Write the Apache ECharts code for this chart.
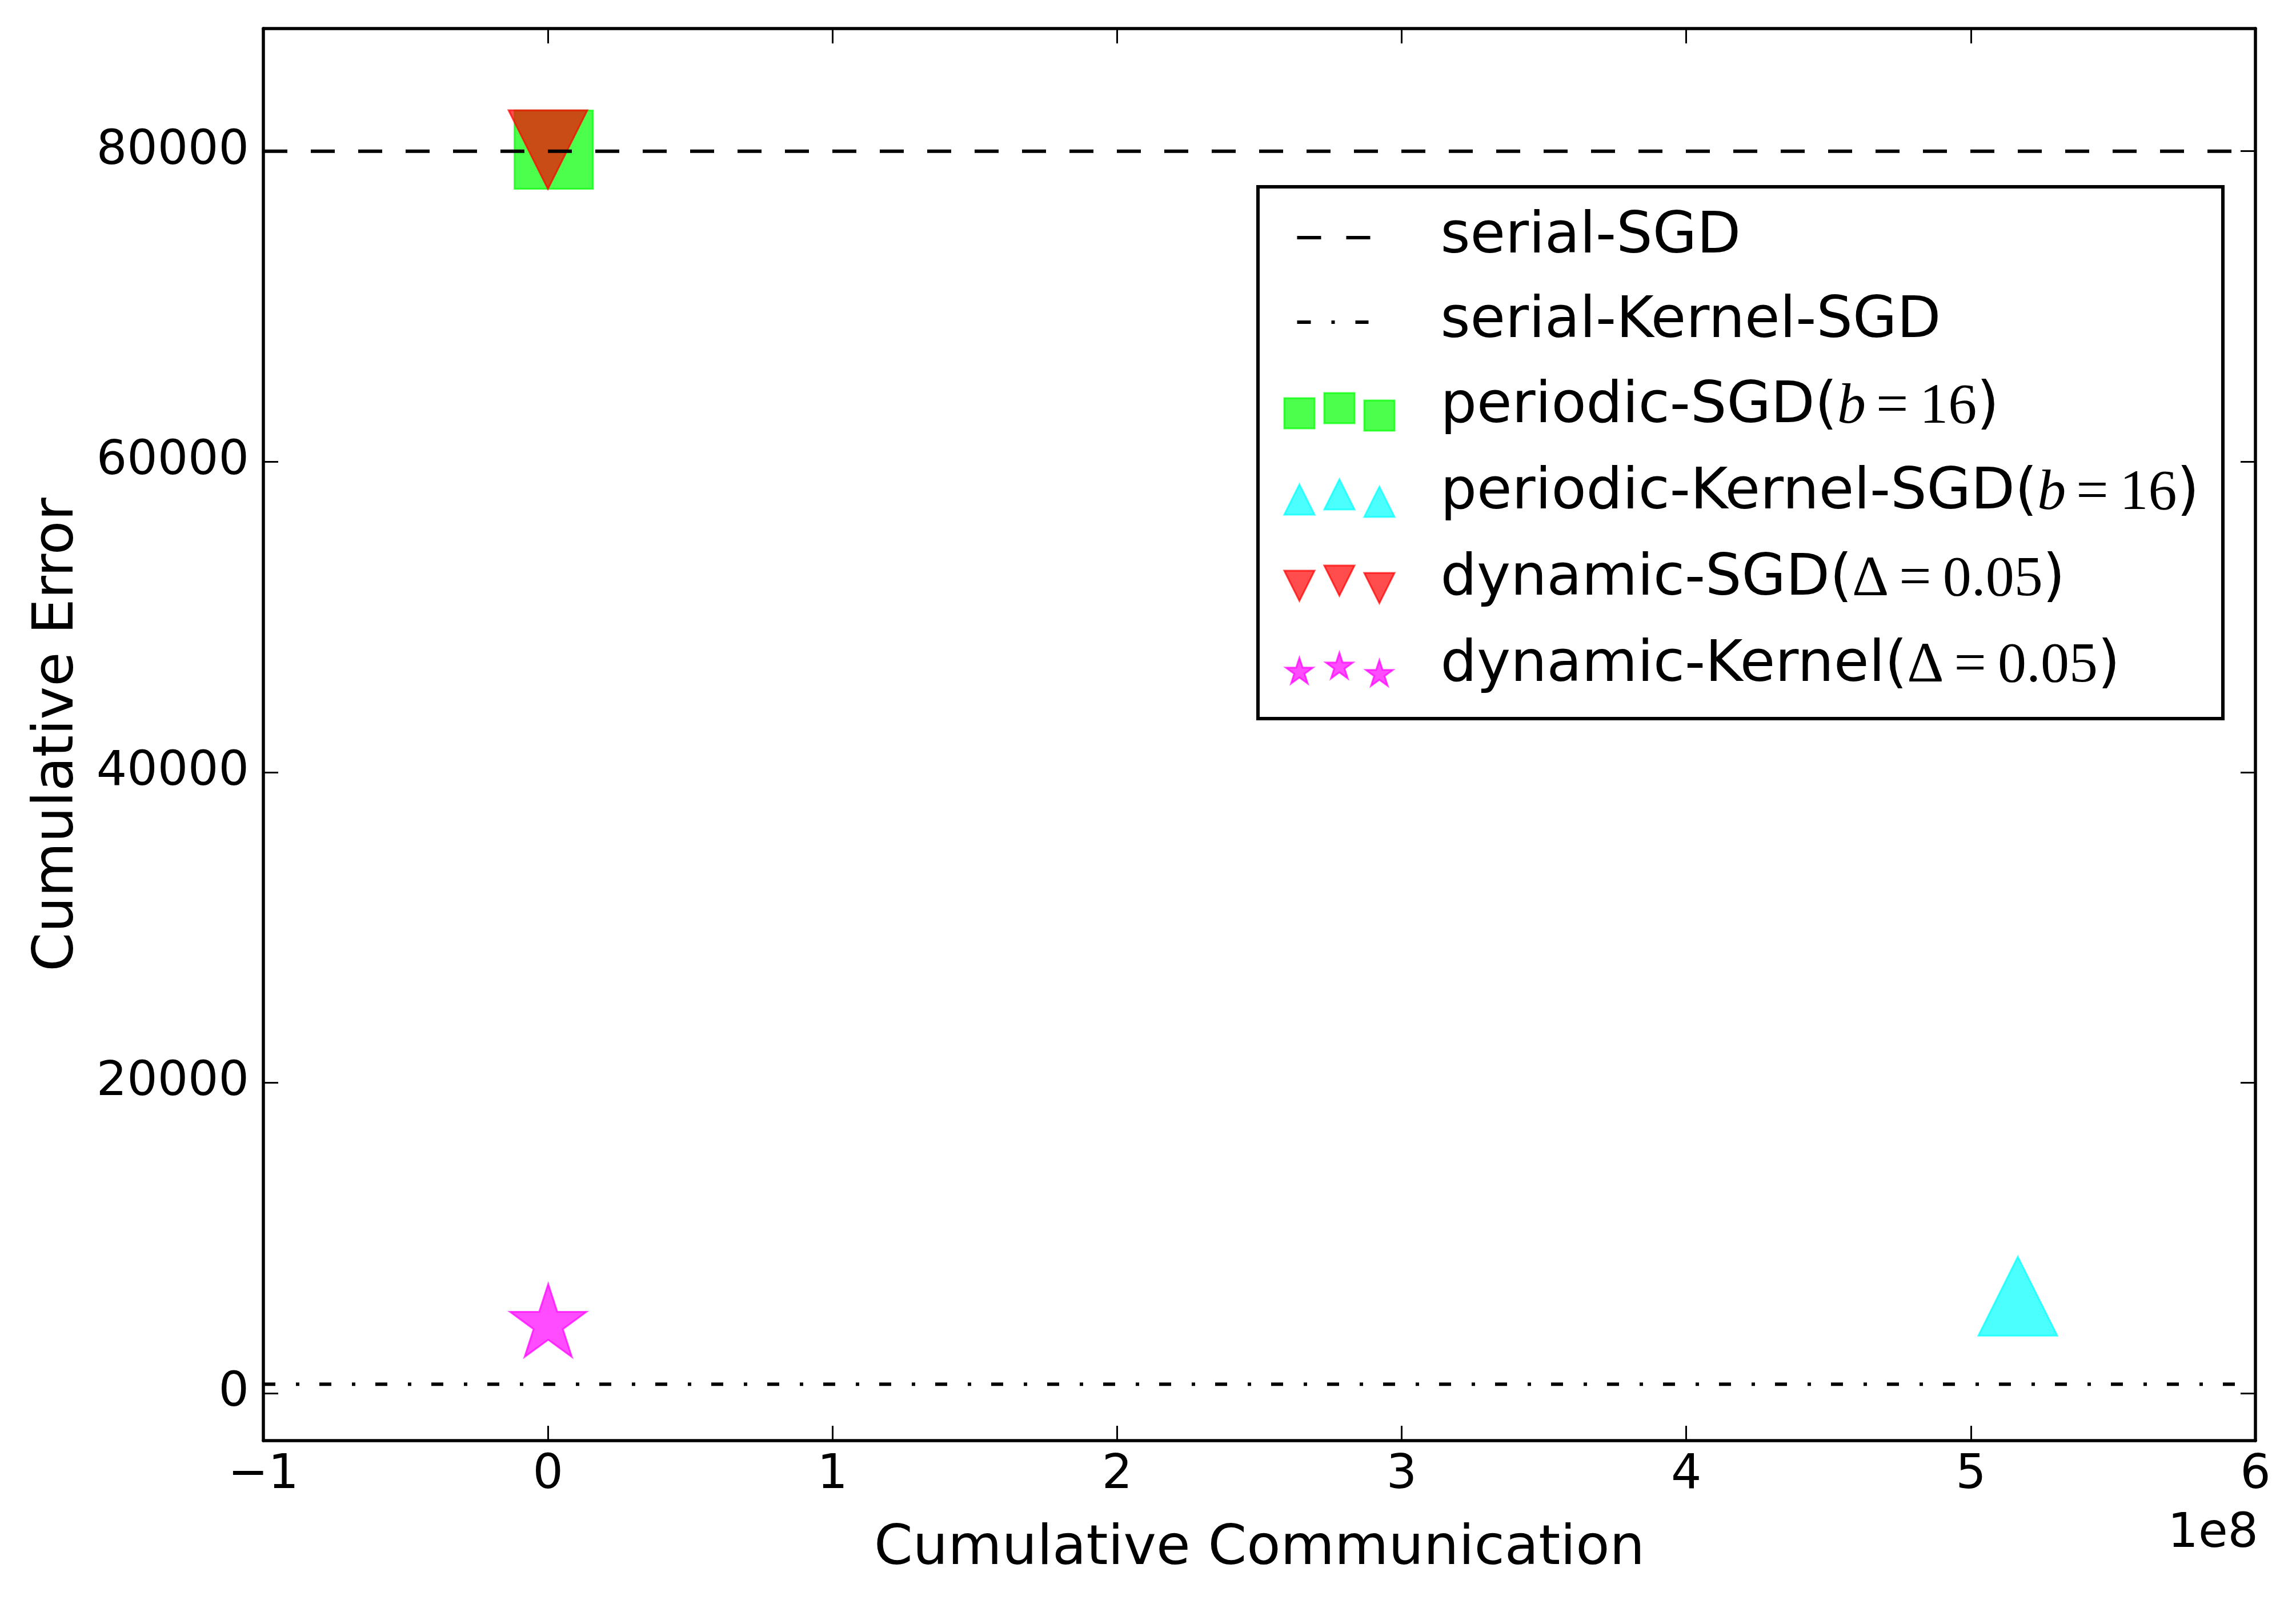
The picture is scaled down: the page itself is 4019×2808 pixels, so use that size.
<!DOCTYPE html>
<html>
<head>
<meta charset="utf-8">
<script src="https://cdn.jsdelivr.net/npm/echarts@6/dist/echarts.min.js"></script>
<style>
html, body { margin: 0; padding: 0; background: #fff; }
#chart { width: 4019px; height: 2808px; }
</style>
</head>
<body>
<div id="chart"></div>
<script>
// axes
var xRange = [-1e8, 6e8];
var xTickStep = 1e8;
var yRange = [-3050, 87900];
var yTicks = [0, 20000, 40000, 60000, 80000];

// legend order
var seriesNames = [
  "serial-SGD",
  "serial-Kernel-SGD",
  "periodic-SGD(b=16)",
  "periodic-Kernel-SGD(b=16)",
  "dynamic-SGD(Δ=0.05)",
  "dynamic-Kernel(Δ=0.05)"
];

// serial baselines (horizontal levels)
var serialSgdError = 80000;
var serialKernelError = 580;

// [cumulative communication, cumulative error]
var periodicSgd = [[2e6, 80100]];
var periodicKernel = [[5.165e8, 6250]];
var dynamicSgd = [[0, 80100]];
var dynamicKernel = [[1e5, 4440]];

var FONT = "DejaVu Sans";
var MATH = "Liberation Serif";

function starPoints(cx, cy, R) {
  var pts = [];
  for (var k = 0; k < 10; k++) {
    var r = k % 2 === 0 ? R : R * 0.382;
    var a = (-90 + 36 * k) * Math.PI / 180;
    pts.push((cx + r * Math.cos(a)).toFixed(2) + "," + (cy + r * Math.sin(a)).toFixed(2));
  }
  return "M" + pts.join(" L") + " Z";
}

// legend handles: 3 staggered markers like matplotlib's scatterpoints
var ICON_W = 270, ICON_H = 100;
var handleX = [28, 98, 168];
var handleY = [60, 51, 64];
function handle(shape) {
  var s = 53, h = s / 2, d = "M0,0 M" + ICON_W + "," + ICON_H + " ";
  for (var i = 0; i < 3; i++) {
    var cx = handleX[i], cy = handleY[i];
    if (shape === "square") {
      d += "M" + (cx - h) + "," + (cy - h) + " h" + s + " v" + s + " h" + (-s) + " Z ";
    } else if (shape === "up") {
      d += "M" + cx + "," + (cy - h) + " L" + (cx + h) + "," + (cy + h) + " L" + (cx - h) + "," + (cy + h) + " Z ";
    } else if (shape === "down") {
      d += "M" + (cx - h) + "," + (cy - h) + " L" + (cx + h) + "," + (cy - h) + " L" + cx + "," + (cy + h) + " Z ";
    } else {
      d += starPoints(cx, cy, 25) + " ";
    }
  }
  return "path://" + d;
}
var dashHandle = "path://M0,0 M" + ICON_W + "," + ICON_H + " M24,47 h42 v6 h-42 Z M110,47 h42 v6 h-42 Z";
var dashDotHandle = "path://M0,0 M" + ICON_W + "," + ICON_H + " M24,47 h24 v6 h-24 Z M84,47 h6 v6 h-6 Z M126,47 h23 v6 h-23 Z";

var green = "rgba(0,255,0,0.7)";
var cyan = "rgba(0,255,255,0.7)";
var red = "rgba(255,0,0,0.7)";
var magenta = "rgba(255,0,255,0.7)";

var legendLabels = {
  "serial-SGD": "serial-SGD",
  "serial-Kernel-SGD": "serial-Kernel-SGD",
  "periodic-SGD(b=16)": "periodic-SGD({it|b}{eq|=}{m|16})",
  "periodic-Kernel-SGD(b=16)": "periodic-Kernel-SGD({it|b}{eq|=}{m|16})",
  "dynamic-SGD(Δ=0.05)": "dynamic-SGD({m|Δ}{eq|=}{m|0.05})",
  "dynamic-Kernel(Δ=0.05)": "dynamic-Kernel({m|Δ}{eq|=}{m|0.05})"
};

var legendIcons = [dashHandle, dashDotHandle, handle("square"), handle("up"), handle("down"), handle("star")];
var legendColors = ["#000", "#000", green, cyan, red, magenta];

var chart = echarts.init(document.getElementById("chart"));

function axisCommon() {
  return {
    type: "value",
    axisLine: { show: true, onZero: false, lineStyle: { color: "#000", width: 5.5 } },
    axisTick: { show: true, inside: true, length: 26, lineStyle: { color: "#000", width: 3 } },
    splitLine: { show: false }
  };
}

var xBottom = Object.assign(axisCommon(), {
  position: "bottom",
  min: xRange[0], max: xRange[1], interval: xTickStep,
  axisLabel: {
    margin: 19, fontSize: 84, fontFamily: FONT, color: "#000",
    formatter: function (v) {
      var n = Math.round(v / 1e8);
      return n < 0 ? "\u2212" + Math.abs(n) : String(n);
    }
  },
  name: "Cumulative Communication",
  nameLocation: "middle",
  nameGap: 142,
  nameTextStyle: { fontSize: 97, fontFamily: FONT, color: "#000" }
});
var xTop = Object.assign(axisCommon(), {
  position: "top",
  min: xRange[0], max: xRange[1], interval: xTickStep,
  axisLabel: { show: false }
});
var yLeft = Object.assign(axisCommon(), {
  position: "left",
  min: yRange[0], max: yRange[1],
  axisLabel: {
    margin: 25, fontSize: 84, fontFamily: FONT, color: "#000", customValues: yTicks,
    formatter: function (v) { return String(v); }
  },
  name: "Cumulative Error",
  nameLocation: "middle",
  nameGap: 310,
  nameTextStyle: { fontSize: 98, fontFamily: FONT, color: "#000" }
});
yLeft.axisTick.customValues = yTicks;
var yRight = Object.assign(axisCommon(), {
  position: "right",
  min: yRange[0], max: yRange[1],
  axisLabel: { show: false }
});
yRight.axisTick.customValues = yTicks;

var option = {
  animation: false,
  backgroundColor: "#fff",
  grid: { left: 461, right: 71, top: 50, bottom: 286 },
  xAxis: [xBottom, xTop],
  yAxis: [yLeft, yRight],
  legend: {
    orient: "vertical",
    left: 2245,
    top: 366,
    padding: 0,
    itemWidth: ICON_W,
    itemHeight: ICON_H,
    itemGap: 48,
    symbolRotate: 0,
    selectedMode: false,
    textStyle: {
      fontSize: 100, fontFamily: FONT, color: "#000", lineHeight: 100,
      rich: {
        it: { fontSize: 100, fontFamily: MATH, fontStyle: "italic", lineHeight: 100, color: "#000" },
        m: { fontSize: 100, fontFamily: MATH, lineHeight: 100, color: "#000" },
        eq: { fontSize: 100, fontFamily: MATH, lineHeight: 100, color: "#000", padding: [0, 20, 0, 18] }
      }
    },
    formatter: function (name) { return legendLabels[name]; },
    data: seriesNames.map(function (n, i) {
      var isLine = i < 2;
      return {
        name: n,
        icon: legendIcons[i],
        itemStyle: {
          color: legendColors[i],
          borderColor: legendColors[i],
          borderWidth: isLine ? 0 : 3,
          opacity: 1
        }
      };
    })
  },
  graphic: [
    {
      type: "rect",
      z: 1,
      shape: { x: 2202, y: 327, width: 1689, height: 931 },
      style: { fill: "#fff", stroke: "#000", lineWidth: 6 }
    },
    {
      type: "text",
      x: 3953,
      y: 2686,
      style: { text: "1e8", fontSize: 84, fontFamily: FONT, fill: "#000", align: "right", verticalAlign: "middle" }
    }
  ],
  series: [
    {
      name: seriesNames[0], type: "line", z: 4,
      data: xRange.map(function (x) { return [x, serialSgdError]; }),
      symbol: "none", silent: true,
      lineStyle: { color: "#000", width: 6, type: [42, 41] }
    },
    {
      name: seriesNames[1], type: "line", z: 4,
      data: xRange.map(function (x) { return [x, serialKernelError]; }),
      symbol: "none", silent: true,
      lineStyle: { color: "#000", width: 6, type: [21, 36, 6, 35] }
    },
    {
      name: seriesNames[2], type: "scatter", z: 2,
      data: periodicSgd,
      symbol: "rect", symbolSize: 137,
      itemStyle: { color: green, borderColor: green, borderWidth: 3, opacity: 1 }
    },
    {
      name: seriesNames[3], type: "scatter", z: 2,
      data: periodicKernel,
      symbol: "triangle", symbolSize: 138,
      itemStyle: { color: cyan, borderColor: cyan, borderWidth: 3, opacity: 1 }
    },
    {
      name: seriesNames[4], type: "scatter", z: 3,
      data: dynamicSgd,
      symbol: "path://M0,0 L2,0 L1,2 Z", symbolSize: 138,
      itemStyle: { color: red, borderColor: red, borderWidth: 3, opacity: 1 }
    },
    {
      name: seriesNames[5], type: "scatter", z: 3,
      data: dynamicKernel,
      symbol: "path://" + starPoints(0, 0, 100), symbolSize: [134, 128], symbolOffset: [0, -6.8],
      itemStyle: { color: magenta, borderColor: magenta, borderWidth: 3, opacity: 1 }
    }
  ]
};
chart.setOption(option);
</script>
</body>
</html>
